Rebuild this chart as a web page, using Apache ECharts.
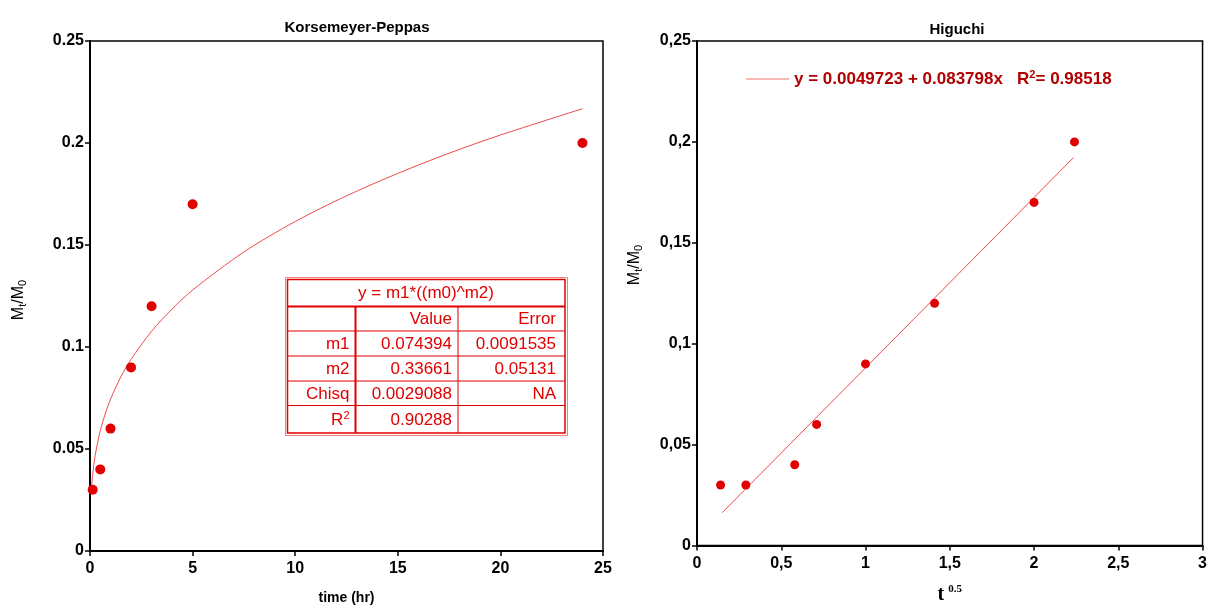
<!DOCTYPE html>
<html>
<head>
<meta charset="utf-8">
<script src="https://cdn.jsdelivr.net/npm/echarts@6/dist/echarts.min.js"></script>
<style>html,body{margin:0;padding:0;background:#fff;}#c{width:1210px;height:610px;}</style>
</head>
<body>
<div id="c"></div>
<script>
// ---- Korsemeyer-Peppas panel ----
const kpTime = [0.13, 0.5, 1, 2, 3, 5, 24];
const kpRelease = [0.03, 0.04, 0.06, 0.09, 0.12, 0.17, 0.2];
const kpFitTime = [0.083, 0.125, 0.25, 0.5, 0.75, 1, 1.5, 2, 3, 4, 5, 7.5, 10, 12.5, 15, 17.5, 20, 24];
const kpFitValue = [0.0322, 0.0369, 0.0467, 0.0589, 0.0675, 0.0744, 0.0853, 0.0939, 0.1077, 0.1186, 0.1279, 0.1466, 0.1615, 0.1741, 0.1851, 0.1950, 0.2039, 0.2168];

// ---- Higuchi panel ----
const hgRoot = [0.14, 0.29, 0.58, 0.71, 1.0, 1.41, 2.0, 2.24];
const hgRelease = [0.03, 0.03, 0.04, 0.06, 0.09, 0.12, 0.17, 0.2];
const hgFitRoot = [0.15, 2.234];
const hgFitValue = [0.0163, 0.1922];

// ---- fit table (left panel) ----
const tableTitle = 'y = m1*((m0)^m2)';
const tableHeader = ['', 'Value', 'Error'];
const tableRowNames = ['m1', 'm2', 'Chisq', 'R{sup|2}'];
const tableValues = ['0.074394', '0.33661', '0.0029088', '0.90288'];
const tableErrors = ['0.0091535', '0.05131', 'NA', ''];

const higuchiLegend = 'y = 0.0049723 + 0.083798x   R{sup|2}= 0.98518';

const FONT = '"Liberation Sans", Arial, sans-serif';
const RED = '#e00000';

const zip = (xs, ys) => xs.map((x, i) => [x, ys[i]]);

// table geometry (annotation box)
const tbl = { x0: 287, x1: 355.5, x2: 458, x3: 565, rows: [279, 306.5, 331, 356, 381, 405.5, 433] };
function buildTable() {
  const els = [];
  els.push({ type: 'rect', shape: { x: 285.5, y: 277.5, width: 282, height: 158 }, style: { fill: 'none', stroke: '#f08080', lineWidth: 1 } });
  els.push({ type: 'rect', shape: { x: 287.5, y: 279.5, width: 277.5, height: 153.5 }, style: { fill: '#fff', stroke: RED, lineWidth: 1.5 } });
  const r = tbl.rows;
  for (let i = 1; i < r.length - 1; i++) {
    els.push({ type: 'line', shape: { x1: tbl.x0, y1: r[i], x2: tbl.x3, y2: r[i] }, style: { stroke: RED, lineWidth: i === 1 ? 2 : 1 } });
  }
  els.push({ type: 'line', shape: { x1: tbl.x1, y1: r[1], x2: tbl.x1, y2: r[6] }, style: { stroke: RED, lineWidth: 2 } });
  els.push({ type: 'line', shape: { x1: tbl.x2, y1: r[1], x2: tbl.x2, y2: r[6] }, style: { stroke: RED, lineWidth: 1 } });
  const ts = (text, x, y, align) => ({ type: 'text', x: x, y: y, style: { text: text, fill: RED, font: '17px ' + FONT, align: align, verticalAlign: 'middle', rich: { sup: { fontSize: 11, fill: RED, padding: [0, 0, 9, 0], fontFamily: FONT } } } });
  els.push(ts(tableTitle, (tbl.x0 + tbl.x3) / 2, (r[0] + r[1]) / 2 + 1, 'center'));
  const cols = [tbl.x1 - 6, tbl.x2 - 6, tbl.x3 - 9];
  tableHeader.forEach((h, j) => { if (h) els.push(ts(h, cols[j], (r[1] + r[2]) / 2 + 1, 'right')); });
  tableRowNames.forEach((n, i) => {
    const y = (r[i + 2] + r[i + 3]) / 2 + 1;
    els.push(ts(n, cols[0], y, 'right'));
    els.push(ts(tableValues[i], cols[1], y, 'right'));
    if (tableErrors[i]) els.push(ts(tableErrors[i], cols[2], y, 'right'));
  });
  return els;
}

const yLabelStyle = { color: '#000', fontFamily: FONT, fontWeight: 'bold', fontSize: 16, margin: 6 };
const xLabelStyle = { color: '#000', fontFamily: FONT, fontWeight: 'bold', fontSize: 16, margin: 10 };
const axisLineStyle = { show: true, lineStyle: { color: '#000', width: 2 } };
const axisTickStyle = { show: true, length: 5, lineStyle: { color: '#000', width: 1.5 } };
const commaFmt = v => String(v).replace('.', ',');

const yNameRich = { sub: { fontSize: 11, padding: [7, 0, 0, 0], fontFamily: FONT, color: '#000' } };

const chart = echarts.init(document.getElementById('c'), null, { renderer: 'canvas' });
chart.setOption({
  animation: false,
  backgroundColor: '#fff',
  title: [
    { text: 'Korsemeyer-Peppas', left: 352, top: 15, textAlign: 'center', textStyle: { fontFamily: FONT, fontWeight: 'bold', fontSize: 15, color: '#000' } },
    { text: 'Higuchi', left: 952, top: 17, textAlign: 'center', textStyle: { fontFamily: FONT, fontWeight: 'bold', fontSize: 15, color: '#000' } }
  ],
  legend: {
    data: [{ name: 'higuchiFit', icon: 'rect', itemStyle: { color: '#f4a0a0' } }],
    left: 741, top: 64,
    itemWidth: 43, itemHeight: 1.5, itemGap: 10,
    formatter: () => higuchiLegend,
    textStyle: { color: '#b00000', fontFamily: FONT, fontWeight: 'bold', fontSize: 17, rich: { sup: { fontSize: 11, padding: [0, 0, 9, 0], color: '#b00000', fontWeight: 'bold', fontFamily: FONT } } }
  },
  grid: [
    { left: 90, top: 41, width: 513, height: 513, show: true, borderColor: '#000', borderWidth: 1.5, backgroundColor: 'transparent' },
    { left: 697, top: 41, width: 510, height: 507, show: true, borderColor: '#000', borderWidth: 1.5, backgroundColor: 'transparent' }
  ],
  xAxis: [
    { type: 'value', gridIndex: 0, min: 0, max: 25, interval: 5,
      name: 'time (hr)', nameLocation: 'middle', nameGap: 40,
      nameTextStyle: { fontFamily: FONT, fontWeight: 'bold', fontSize: 14, color: '#000' },
      axisLine: axisLineStyle, axisTick: axisTickStyle, axisLabel: xLabelStyle, splitLine: { show: false } },
    { type: 'value', gridIndex: 1, min: 0, max: 3, interval: 0.5,
      name: 't{sup|0.5}', nameLocation: 'middle', nameGap: 38,
      nameTextStyle: { fontFamily: '"Liberation Serif", "Times New Roman", serif', fontWeight: 'bold', fontSize: 20, color: '#000',
        rich: { sup: { fontFamily: '"Liberation Serif", serif', fontWeight: 'bold', fontSize: 11, padding: [0, 0, 12, 4], color: '#000' } } },
      axisLine: axisLineStyle, axisTick: axisTickStyle,
      axisLabel: Object.assign({}, xLabelStyle, { formatter: commaFmt }), splitLine: { show: false } }
  ],
  yAxis: [
    { type: 'value', gridIndex: 0, min: 0, max: 0.25, interval: 0.05,
      axisLine: axisLineStyle, axisTick: axisTickStyle, axisLabel: yLabelStyle, splitLine: { show: false } },
    { type: 'value', gridIndex: 1, min: 0, max: 0.25, interval: 0.05,
      axisLine: axisLineStyle, axisTick: axisTickStyle,
      axisLabel: Object.assign({}, yLabelStyle, { formatter: commaFmt }), splitLine: { show: false } }
  ],
  graphic: [
    { type: 'text', x: 19, y: 300, rotation: Math.PI / 2, style: { text: 'M{sub|t}/M{sub|0}', font: '16px ' + FONT, fill: '#000', align: 'center', verticalAlign: 'middle', rich: yNameRich } },
    { type: 'text', x: 635, y: 265, rotation: Math.PI / 2, style: { text: 'M{sub|t}/M{sub|0}', font: '16px ' + FONT, fill: '#000', align: 'center', verticalAlign: 'middle', rich: yNameRich } },
    { type: 'group', children: buildTable() }
  ],
  series: [
    { name: 'kpFit', type: 'line', xAxisIndex: 0, yAxisIndex: 0, data: zip(kpFitTime, kpFitValue), smooth: 0.3, symbol: 'none',
      lineStyle: { color: '#ee4a4a', width: 1 }, z: 2 },
    { name: 'kpData', type: 'scatter', xAxisIndex: 0, yAxisIndex: 0, data: zip(kpTime, kpRelease), symbolSize: 10,
      itemStyle: { color: RED, opacity: 1 }, z: 3 },
    { name: 'higuchiFit', type: 'line', xAxisIndex: 1, yAxisIndex: 1, data: zip(hgFitRoot, hgFitValue), symbol: 'none',
      lineStyle: { color: '#ee4a4a', width: 1 }, z: 2 },
    { name: 'hgData', type: 'scatter', xAxisIndex: 1, yAxisIndex: 1, data: zip(hgRoot, hgRelease), symbolSize: 9,
      itemStyle: { color: RED, opacity: 1 }, z: 3 }
  ]
});
</script>
</body>
</html>
